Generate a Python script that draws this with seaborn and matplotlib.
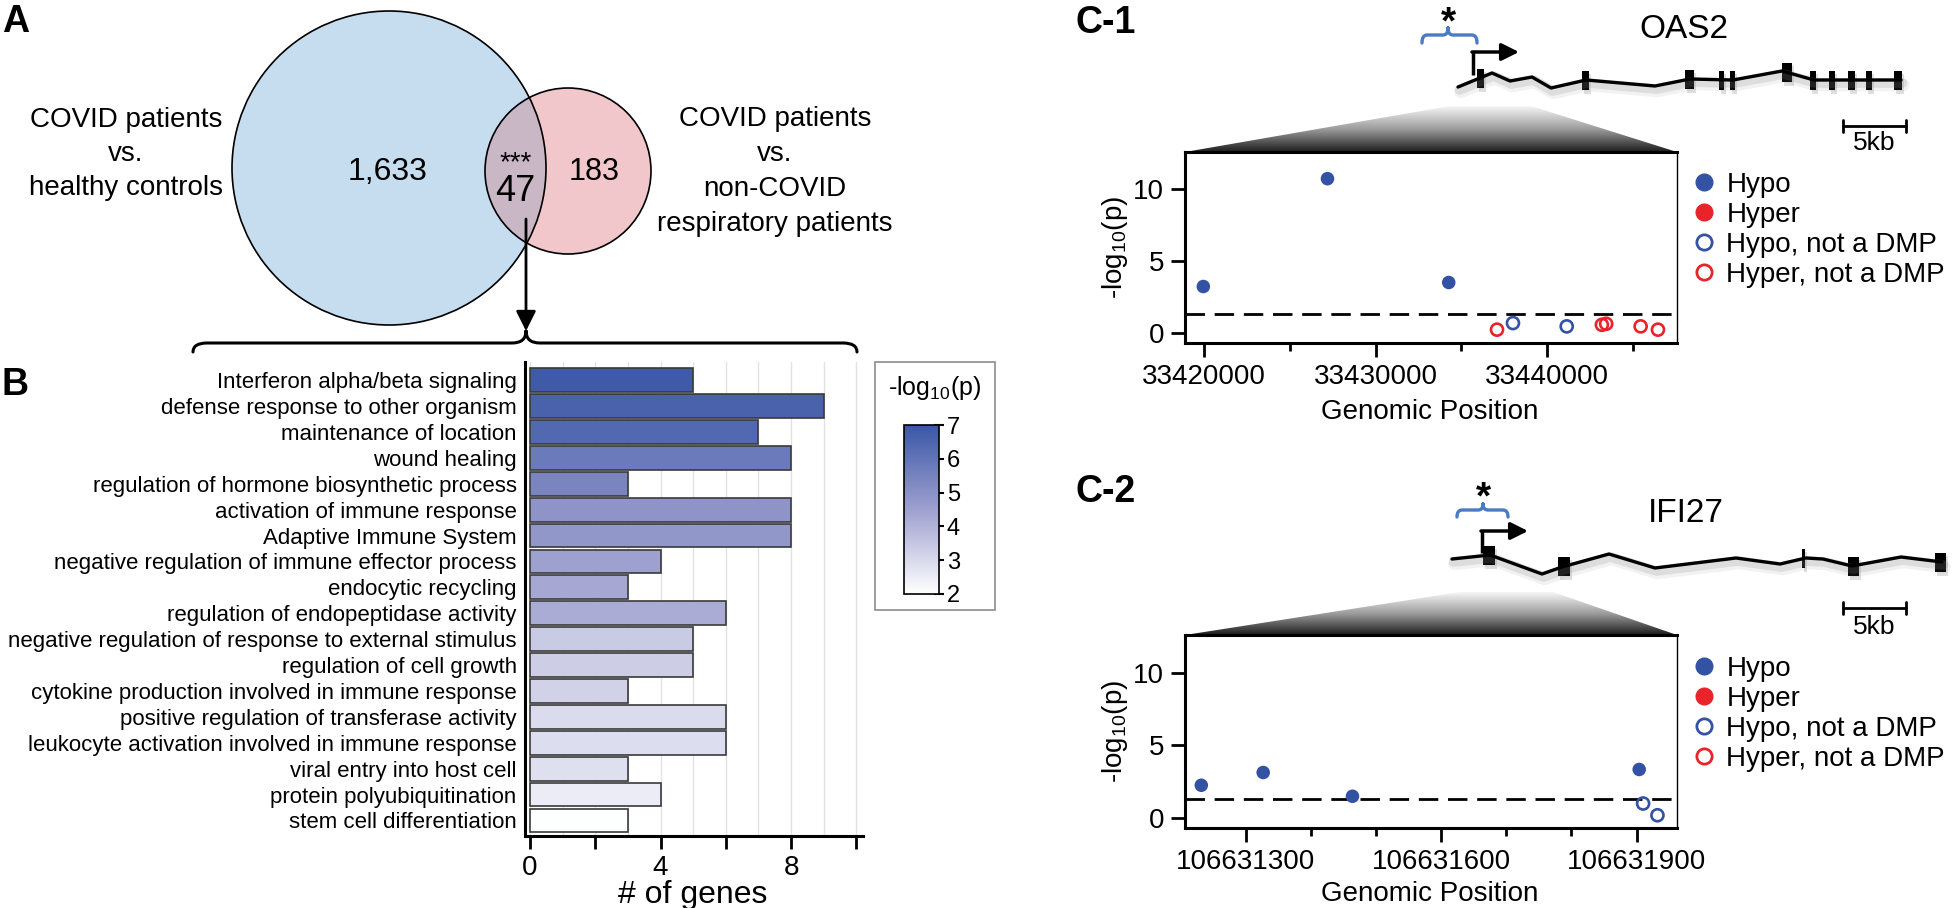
import numpy as np
import pandas as pd
import seaborn as sns
import matplotlib.pyplot as plt
from matplotlib.patches import Circle, Polygon, Rectangle, PathPatch
from matplotlib.path import Path
from matplotlib.colors import LinearSegmentedColormap, Normalize
from matplotlib.cm import ScalarMappable
from matplotlib.lines import Line2D

sns.set_style("ticks", rc={"axes.edgecolor": "black", "text.color": "black",
                           "xtick.color": "black", "ytick.color": "black",
                           "axes.labelcolor": "black"})
plt.rcParams["font.family"] = ["Liberation Sans", "DejaVu Sans"]
plt.rcParams["mathtext.fontset"] = "custom"
plt.rcParams["mathtext.rm"] = "Liberation Sans"
plt.rcParams["mathtext.it"] = "Liberation Sans:italic"

W, H = 1958, 908

# ---------------- data ----------------
venn_left = ["COVID patients", "vs.", "healthy controls"]
venn_right = ["COVID patients", "vs.", "non-COVID", "respiratory patients"]
venn_only_a = "1,633"
venn_shared = "47"
venn_only_b = "183"

go_terms = ["Interferon alpha/beta signaling", "defense response to other organism",
            "maintenance of location", "wound healing",
            "regulation of hormone biosynthetic process", "activation of immune response",
            "Adaptive Immune System", "negative regulation of immune effector process",
            "endocytic recycling", "regulation of endopeptidase activity",
            "negative regulation of response to external stimulus", "regulation of cell growth",
            "cytokine production involved in immune response",
            "positive regulation of transferase activity",
            "leukocyte activation involved in immune response", "viral entry into host cell",
            "protein polyubiquitination", "stem cell differentiation"]
go_genes = [5, 9, 7, 8, 3, 8, 8, 4, 3, 6, 5, 5, 3, 6, 6, 3, 4, 3]
go_logp = [6.9, 6.6, 6.4, 5.8, 5.4, 4.9, 4.8, 4.5, 4.3, 4.2, 3.4, 3.3, 3.2, 2.95, 2.9, 2.85, 2.5, 2.05]

oas2_pos = [33419960, 33427200, 33434270, 33437085, 33438015, 33441150,
            33443200, 33443450, 33445460, 33446470]
oas2_logp = [3.22, 10.74, 3.5, 0.21, 0.67, 0.44, 0.55, 0.62, 0.44, 0.21]
oas2_dir = ["Hypo", "Hypo", "Hypo", "Hyper", "Hypo", "Hypo", "Hyper", "Hyper", "Hyper", "Hyper"]
oas2_dmp = [True, True, True, False, False, False, False, False, False, False]
oas2_ticks = [33420000, 33430000, 33440000]
oas2_minor = [33425000, 33435000, 33445000]

ifi27_pos = [106631232, 106631327, 106631464, 106631904, 106631910, 106631932]
ifi27_logp = [2.23, 3.11, 1.47, 3.32, 0.97, 0.16]
ifi27_dir = ["Hypo", "Hypo", "Hypo", "Hypo", "Hypo", "Hypo"]
ifi27_dmp = [True, True, True, True, False, False]
ifi27_ticks = [106631300, 106631600, 106631900]
ifi27_minor = [106631400, 106631500, 106631700, 106631800]

sig_line = -np.log10(0.05)
legend_labels = ["Hypo", "Hyper", "Hypo, not a DMP", "Hyper, not a DMP"]

# gene models (schematic, figure pixels)
oas2_intron_x = [1458, 1492, 1510, 1532, 1551, 1586, 1655, 1690, 1733, 1782, 1814, 1901]
oas2_intron_y = [87, 73, 81, 77, 88, 80, 86, 79, 80, 71, 80, 80]
oas2_exons = [(1481, 7), (1586, 7), (1690, 9), (1722, 5), (1733, 5), (1787, 10),
              (1813, 6), (1832, 6), (1852, 7), (1869, 6), (1898, 8)]
ifi27_intron_x = [1452, 1490, 1542, 1562, 1609, 1655, 1736, 1780, 1806, 1823, 1852, 1901, 1942]
ifi27_intron_y = [559, 555, 574, 567, 554, 568, 558, 564, 558, 559, 566, 557, 562]
ifi27_exons = [(1489, 12), (1564, 12), (1804, 3), (1854, 11), (1941, 11)]

blue_c = "#3452a4"
red_c = "#e8232a"
cmap = LinearSegmentedColormap.from_list("bl", ["#ffffff", "#9ea0cf", "#3a57a6"])
norm = Normalize(2, 7)
grad_cmap = LinearSegmentedColormap.from_list("gr", ["#f6f6f6", "#9c9c9c", "#1e1e1e"])


def px(l, t, r, b):
    return [l / W, 1 - b / H, (r - l) / W, (b - t) / H]


fig = plt.figure(figsize=(W / 100, H / 100), dpi=100)
ov = fig.add_axes([0, 0, 1, 1])
ov.set_xlim(0, W)
ov.set_ylim(H, 0)
ov.set_autoscale_on(False)
ov.axis("off")

# ---------------- A: Venn ----------------
big = Circle((389, 168), 157, fc="#c5ddef", ec="none")
small = Circle((568, 171), 83, fc="#f1c7cc", ec="none")
ov.add_patch(big)
ov.add_patch(small)
lens = Circle((568, 171), 83, fc="#c9b7c5", ec="none")
ov.add_patch(lens)
lens.set_clip_path(big)
ov.add_patch(Circle((389, 168), 157, fill=False, ec="black", lw=1.2))
ov.add_patch(Circle((568, 171), 83, fill=False, ec="black", lw=1.2))

for i, line in enumerate(venn_left):
    ov.text(126, 127 + i * 34, line, ha="center", va="baseline", fontsize=20)
for i, line in enumerate(venn_right):
    ov.text(775, 126 + i * 35, line, ha="center", va="baseline", fontsize=20)
ov.text(388, 180, venn_only_a, ha="center", va="baseline", fontsize=23)
ov.text(594, 180, venn_only_b, ha="center", va="baseline", fontsize=22)
ov.text(516, 170, "***", ha="center", va="baseline", fontsize=20)
ov.text(515, 201, venn_shared, ha="center", va="baseline", fontsize=26)
ov.annotate("", xy=(526, 331), xytext=(526, 219),
            arrowprops=dict(arrowstyle="-|>", color="black", lw=2, mutation_scale=30,
                            shrinkA=0, shrinkB=0))


def brace(ax, x0, x1, xt, y_end, y_main, y_tip, r, color, lw):
    M, C, L = Path.MOVETO, Path.CURVE3, Path.LINETO
    verts = [(x0, y_end), (x0, y_main), (x0 + r, y_main), (xt - r, y_main), (xt, y_main), (xt, y_tip),
             (x1, y_end), (x1, y_main), (x1 - r, y_main), (xt + r, y_main), (xt, y_main), (xt, y_tip)]
    codes = [M, C, C, L, C, C, M, C, C, L, C, C]
    ax.add_patch(PathPatch(Path(verts, codes), fill=False, ec=color, lw=lw, capstyle="round"))


brace(ov, 193, 857, 526, 352, 343, 331, 14, "black", 2.2)

# ---------------- B: GO bars ----------------
dfB = pd.DataFrame({"term": go_terms, "genes": go_genes, "logp": go_logp})
bar_colors = [cmap(norm(v)) for v in go_logp]
axB = fig.add_axes(px(525, 362, 863, 836))
sns.barplot(data=dfB, x="genes", y="term", hue="term", palette=bar_colors, orient="h",
            width=0.92, saturation=1, edgecolor="#3a3a3a", linewidth=1.2, legend=False, ax=axB)
axB.set_xlim(-0.15, 10.2)
axB.set_ylim(17.6, -0.7)
axB.set_xticks([0, 2, 4, 6, 8, 10], labels=["0", "", "4", "", "8", ""])
axB.set_xticks(range(11), minor=True)
axB.grid(axis="x", which="both", color="#e2e2e2", lw=1)
axB.set_axisbelow(True)
axB.tick_params(axis="y", length=0, pad=6, labelsize=16)
axB.tick_params(axis="x", which="major", length=9, width=2, labelsize=20, pad=5)
axB.tick_params(axis="x", which="minor", length=0)
axB.set_ylabel("")
axB.set_xlabel("# of genes", fontsize=23)
axB.xaxis.label.set_va("center")
axB.xaxis.set_label_coords(0.497, -0.125)
sns.despine(ax=axB)
for s in ["left", "bottom"]:
    axB.spines[s].set_linewidth(2.2)

ov.add_patch(Rectangle((875, 362), 120, 248, fill=False, ec="#8c8c8c", lw=1.2))
ov.text(935, 395, "-log$_{10}$(p)", ha="center", va="baseline", fontsize=18)
cax = fig.add_axes(px(904, 425, 939, 594))
cb = fig.colorbar(ScalarMappable(norm=norm, cmap=cmap), cax=cax, ticks=range(2, 8))
cb.outline.set_linewidth(1.2)
cax.tick_params(labelsize=17, length=7, width=1.5, direction="inout", pad=2)

# ---------------- C: loci ----------------
def gene_model(ax, xs, ys, exons, tss_x, tss_y0, tss_y1, tss_tip):
    xs = np.array(xs)
    ys = np.array(ys)
    for off, a in [(5, 0.10), (3, 0.18)]:
        ax.plot(xs + off / 2, ys + off, color="#808080", lw=4 + off, alpha=a, solid_capstyle="round")
    ax.plot(xs, ys, color="black", lw=2.4)
    for x, w in exons:
        yc = np.interp(x, xs, ys)
        ax.add_patch(Rectangle((x - w / 2 + 2, yc - 6), w, 20, color="#808080", alpha=0.25, lw=0))
        ax.add_patch(Rectangle((x - w / 2, yc - 9), w, 19, color="black", lw=0))
    ax.plot([tss_x, tss_x], [tss_y0, tss_y1], color="black", lw=2.5, solid_capstyle="butt")
    ax.annotate("", xy=(tss_tip, tss_y1), xytext=(tss_x - 1, tss_y1),
                arrowprops=dict(arrowstyle="-|>", color="black", lw=2.5, mutation_scale=26,
                                shrinkA=0, shrinkB=0))


def trapezoid(ax, pts):
    poly = Polygon(pts, closed=True, fc="none", ec="none")
    ax.add_patch(poly)
    xs = [p[0] for p in pts]
    ys = [p[1] for p in pts]
    im = ax.imshow(np.linspace(0, 1, 200).reshape(-1, 1), cmap=grad_cmap, aspect="auto",
                   extent=(min(xs), max(xs), max(ys), min(ys)), zorder=1)
    im.set_clip_path(poly)


def scale_bar(ax, x0, x1, y, label_y):
    ax.plot([x0, x1], [y, y], color="black", lw=2)
    ax.plot([x0, x0], [y - 6, y + 6], color="black", lw=2)
    ax.plot([x1, x1], [y - 6, y + 6], color="black", lw=2)
    ax.text((x0 + x1) / 2, label_y, "5kb", ha="center", va="center", fontsize=19)


def locus(rect, pos, logp, direc, dmp, xlim, ticks, minor, ylab_y, legend_top):
    ax = fig.add_axes(px(*rect))
    df = pd.DataFrame({"pos": pos, "logp": logp, "dir": direc, "dmp": dmp})
    cols = {"Hypo": blue_c, "Hyper": red_c}
    for (d, is_dmp), sub in df.groupby(["dir", "dmp"]):
        if is_dmp:
            sns.scatterplot(data=sub, x="pos", y="logp", color=cols[d], s=95, edgecolor="none",
                            ax=ax, zorder=3)
        else:
            sns.scatterplot(data=sub, x="pos", y="logp", facecolor="none", edgecolor=cols[d],
                            linewidth=1.9, s=75, ax=ax, zorder=3)
    ax.axhline(sig_line, color="black", lw=2, ls=(0, (7, 3.5)), zorder=2)
    ax.set_xlim(*xlim)
    ax.set_ylim(-0.72, 12.6)
    ax.set_yticks([0, 5, 10])
    ax.set_xticks(ticks, labels=[str(t) for t in ticks])
    ax.set_xticks(minor, minor=True)
    ax.tick_params(which="major", length=10, width=2, labelsize=20, pad=5)
    ax.tick_params(which="minor", length=6, width=2)
    for s in ["left", "bottom", "top"]:
        ax.spines[s].set_linewidth(2.2)
    ax.spines["right"].set_linewidth(1)
    ax.set_xlabel("Genomic Position", fontsize=20)
    ax.xaxis.label.set_va("center")
    ax.xaxis.set_label_coords(0.498, ylab_y)
    ax.set_ylabel("-log$_{10}$(p)", fontsize=20)
    ax.yaxis.label.set_va("center")
    ax.yaxis.set_label_coords(-0.142, 0.5)
    handles = [
        Line2D([], [], ls="", marker="o", ms=12, mfc=blue_c, mec=blue_c, label=legend_labels[0]),
        Line2D([], [], ls="", marker="o", ms=12, mfc=red_c, mec=red_c, label=legend_labels[1]),
        Line2D([], [], ls="", marker="o", ms=11, mfc="none", mec=blue_c, mew=2,
               label=legend_labels[2]),
        Line2D([], [], ls="", marker="o", ms=11, mfc="none", mec=red_c, mew=2,
               label=legend_labels[3]),
    ]
    ax.legend(handles=handles, loc="upper left", bbox_to_anchor=(1693 / W, 1 - legend_top / H),
              bbox_transform=fig.transFigure, frameon=False, fontsize=20, handlelength=0.8,
              handletextpad=0.4, labelspacing=0.14, borderpad=0, borderaxespad=0)
    return ax


# C-1
trapezoid(ov, [(1185, 152), (1450, 106), (1531, 106), (1677, 152)])
gene_model(ov, oas2_intron_x, oas2_intron_y, oas2_exons, 1473, 75, 52, 1519)
brace(ov, 1422, 1477, 1448, 43, 35, 28, 5, "#4a7bc4", 2.4)
ov.text(1448, 33, "*", ha="center", va="baseline", fontsize=28, fontweight="bold")
ov.text(1684, 30, "OAS2", ha="center", va="center", fontsize=24)
scale_bar(ov, 1843, 1906, 126, 143)
locus((1185, 152, 1677, 343), oas2_pos, oas2_logp, oas2_dir, oas2_dmp,
      (33418892, 33447580), oas2_ticks, oas2_minor, -0.36, 172)

# C-2
trapezoid(ov, [(1185, 635), (1460, 592), (1553, 592), (1677, 635)])
gene_model(ov, ifi27_intron_x, ifi27_intron_y, ifi27_exons, 1482, 553, 531, 1528)
brace(ov, 1457, 1508, 1483, 517, 510, 504, 5, "#4a7bc4", 2.4)
ov.text(1483, 508, "*", ha="center", va="baseline", fontsize=28, fontweight="bold")
ov.text(1686, 513, "IFI27", ha="center", va="center", fontsize=24)
scale_bar(ov, 1843, 1906, 608, 627)
locus((1185, 635, 1677, 828), ifi27_pos, ifi27_logp, ifi27_dir, ifi27_dmp,
      (106631207, 106631962), ifi27_ticks, ifi27_minor, -0.34, 656)

# panel letters
ov.text(2, 32, "A", fontsize=27, fontweight="bold", va="baseline")
ov.text(2, 395, "B", fontsize=27, fontweight="bold", va="baseline")
ov.text(1076, 33, "C-1", fontsize=27, fontweight="bold", va="baseline")
ov.text(1076, 502, "C-2", fontsize=27, fontweight="bold", va="baseline")

fig.savefig("out.png", dpi=100)
